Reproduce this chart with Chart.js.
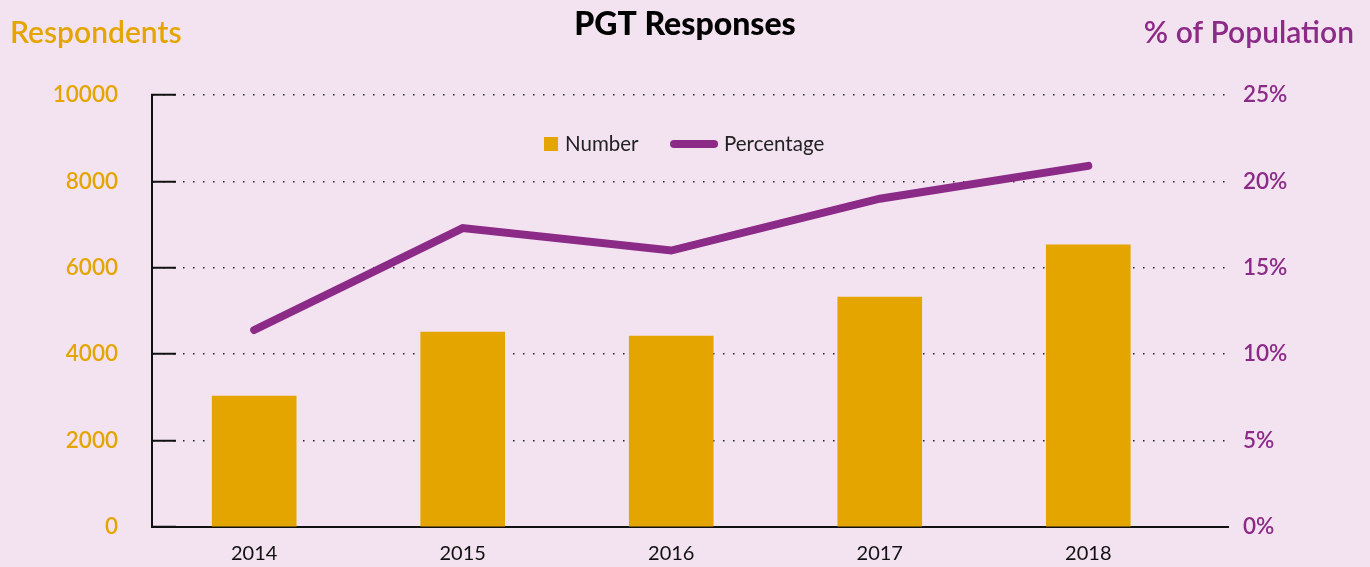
<!DOCTYPE html>
<html>
<head>
<meta charset="utf-8">
<script src="https://cdn.jsdelivr.net/npm/chart.js@4"></script>
<style>
  html, body { margin: 0; padding: 0; background: #f3e3f1; }
  #wrap { width: 1370px; height: 567px; }
</style>
</head>
<body>
<div id="wrap"><canvas id="chart"></canvas></div>
<script>
const years = [2014, 2015, 2016, 2017, 2018];
const respondents = [3030, 4510, 4420, 5320, 6530];
const percentage = [11.4, 17.3, 16.0, 19.0, 20.9];

const orange = '#e5a500';
const purple = '#8c2a87';
const font = 'Lato, "Open Sans", sans-serif';

// axis headers and the legend sit inside / above the plot, so draw them by hand
const extras = {
  id: 'extras',
  afterDraw(chart) {
    const ctx = chart.ctx;
    ctx.save();
    ctx.textBaseline = 'middle';
    ctx.font = '600 30px ' + font;
    ctx.fillStyle = orange;
    ctx.textAlign = 'left';
    ctx.fillText('Respondents', 10, 33);
    ctx.fillStyle = purple;
    ctx.textAlign = 'right';
    ctx.fillText('% of Population', 1354, 33);

    // legend
    const ly = 144;
    ctx.font = '20.5px ' + font;
    ctx.textAlign = 'left';
    ctx.fillStyle = orange;
    ctx.fillRect(544, ly - 7, 14, 14);
    ctx.fillStyle = '#222';
    ctx.fillText(chart.data.datasets[1].label, 565, ly);
    ctx.strokeStyle = purple;
    ctx.lineWidth = 8;
    ctx.lineCap = 'round';
    ctx.beginPath();
    ctx.moveTo(674, ly);
    ctx.lineTo(714, ly);
    ctx.stroke();
    ctx.fillText(chart.data.datasets[0].label, 724, ly);
    ctx.restore();
  }
};

// tick padding would otherwise push the plot bottom up
const noPad = s => { s.paddingTop = 0; s.paddingBottom = 0; };

new Chart(document.getElementById('chart'), {
  data: {
    datasets: [{
      type: 'line',
      label: 'Percentage',
      data: years.map((y, i) => ({ x: y, y: percentage[i] })),
      yAxisID: 'y1',
      borderColor: purple,
      borderWidth: 8,
      borderCapStyle: 'round',
      borderJoinStyle: 'miter',
      pointRadius: 0,
      tension: 0,
      order: 0
    }, {
      type: 'bar',
      label: 'Number',
      data: years.map((y, i) => ({ x: y, y: respondents[i] })),
      yAxisID: 'y',
      backgroundColor: orange,
      barThickness: 84,
      order: 1
    }]
  },
  options: {
    responsive: true,
    maintainAspectRatio: false,
    animation: false,
    layout: { padding: 0 },
    plugins: {
      legend: { display: false },
      tooltip: { enabled: false },
      title: {
        display: true,
        text: 'PGT Responses',
        color: '#000',
        font: { family: font, size: 32, weight: 900 },
        padding: { top: 5, bottom: 51.6 }
      }
    },
    scales: {
      x: {
        type: 'linear',
        offset: false,
        min: 2013.51,
        max: 2018.67,
        afterFit: s => { s.height = 40; },
        grid: { display: false, drawTicks: false },
        border: { color: '#111', width: 2 },
        ticks: {
          stepSize: 1,
          includeBounds: false,
          color: '#111',
          padding: 15,
          font: { family: font, size: 20 },
          callback: v => String(v)
        }
      },
      y: {
        position: 'left',
        min: 0,
        max: 10000,
        z: 1,
        afterFit: s => { s.width = 152; noPad(s); },
        grid: {
          color: '#222',
          lineWidth: 1.5,
          tickLength: -24,
          tickColor: '#111',
          tickWidth: 2
        },
        border: { color: '#111', width: 2, dash: [1.5, 8.5] },
        ticks: {
          stepSize: 2000,
          color: orange,
          padding: 58,
          font: { family: font, size: 22.5, weight: 600 },
          callback: v => String(v)
        }
      },
      y1: {
        position: 'right',
        min: 0,
        max: 25,
        afterFit: s => { s.width = 142; noPad(s); },
        grid: { display: false, drawTicks: false },
        border: { display: false },
        ticks: {
          stepSize: 5,
          color: purple,
          padding: 15,
          font: { family: font, size: 22.5, weight: 600 },
          callback: v => v + '%'
        }
      }
    }
  },
  plugins: [extras]
});
</script>
</body>
</html>
